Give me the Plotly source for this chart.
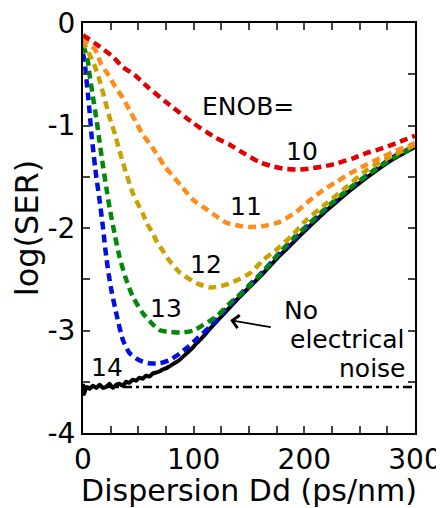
import plotly.graph_objects as go

# ---- data ----
x_10 = [0, 4.5, 15, 27, 36, 47, 58, 76, 100, 120, 133, 145, 160, 172, 181, 193, 205, 217, 229, 244, 256, 271, 286, 300]
y_10 = [-0.12, -0.15, -0.23, -0.33, -0.43, -0.51, -0.62, -0.78, -0.98, -1.12, -1.19, -1.27, -1.36, -1.40, -1.42, -1.43,
        -1.42, -1.40, -1.37, -1.32, -1.27, -1.22, -1.16, -1.10]

x_11 = [0, 3, 11, 16, 23, 29, 36, 42, 48, 53, 63, 74, 88, 100, 112, 121, 130, 142, 151, 163, 178, 193, 205, 217, 229,
        241, 253, 268, 280, 296, 300]
y_11 = [-0.14, -0.18, -0.26, -0.39, -0.51, -0.62, -0.73, -0.85, -0.97, -1.07, -1.22, -1.40, -1.58, -1.73, -1.82, -1.89,
        -1.95, -1.98, -1.99, -1.98, -1.94, -1.84, -1.73, -1.63, -1.55, -1.47, -1.40, -1.32, -1.26, -1.19, -1.17]

x_12 = [0, 1.5, 6, 11, 15, 20, 24, 29, 32, 35, 38, 45, 54, 58, 63, 67, 72, 76, 88, 103, 115, 127, 139, 151, 163, 175,
        190, 202, 220, 238, 257, 275, 300]
y_12 = [-0.17, -0.21, -0.31, -0.43, -0.56, -0.76, -0.92, -1.09, -1.21, -1.32, -1.43, -1.66, -1.86, -1.96, -2.05, -2.14,
        -2.22, -2.29, -2.44, -2.54, -2.58, -2.56, -2.51, -2.44, -2.31, -2.21, -2.06, -1.92, -1.76, -1.60, -1.43, -1.32,
        -1.19]

x_13 = [0, 1.5, 4.5, 6, 9, 12, 15, 18, 21, 24, 29, 33, 38, 45, 54, 63, 70, 76, 88, 100, 108, 121, 133, 145, 157, 169,
        175, 190, 205, 220, 240, 260, 280, 300]
y_13 = [-0.22, -0.26, -0.38, -0.51, -0.72, -0.93, -1.16, -1.39, -1.60, -1.80, -2.08, -2.28, -2.47, -2.67, -2.83, -2.94,
        -3.00, -3.01, -3.02, -3.00, -2.95, -2.86, -2.73, -2.62, -2.49, -2.35, -2.27, -2.10, -1.95, -1.80, -1.62, -1.46,
        -1.32, -1.20]

x_14 = [0, 1.5, 3, 4.5, 6, 7.5, 9, 11, 12, 15, 18, 21, 25, 30, 36, 42, 51, 60, 69, 78, 88, 96, 103, 115, 127, 139, 151,
        163, 175, 190, 205, 220, 235, 250, 265, 280, 300]
y_14 = [-0.30, -0.38, -0.54, -0.70, -0.87, -1.07, -1.22, -1.41, -1.50, -1.73, -1.99, -2.28, -2.57, -2.83, -3.09, -3.22,
        -3.29, -3.32, -3.32, -3.29, -3.22, -3.15, -3.08, -2.96, -2.82, -2.68, -2.55, -2.42, -2.28, -2.12, -1.96, -1.81,
        -1.67, -1.54, -1.42, -1.31, -1.20]

x_noiseless = [0, 1, 3, 6, 9, 12, 15, 18, 21, 24, 27, 30, 33, 36, 39, 42, 45, 48, 51, 54, 57, 60, 63, 66, 69, 72, 75,
               78, 81, 84, 87, 90, 93, 96, 99, 102, 106, 115, 127, 139, 151, 163, 175, 190, 205, 220, 235, 250, 265,
               280, 300]
y_noiseless = [-3.52, -3.62, -3.55, -3.57, -3.54, -3.56, -3.53, -3.56, -3.55, -3.52, -3.56, -3.53, -3.52, -3.54, -3.50,
               -3.51, -3.48, -3.49, -3.46, -3.47, -3.44, -3.45, -3.42, -3.41, -3.40, -3.38, -3.37, -3.35, -3.33, -3.31,
               -3.29, -3.26, -3.23, -3.20, -3.17, -3.13, -3.09, -2.98, -2.84, -2.70, -2.57, -2.44, -2.30, -2.14, -1.98,
               -1.83, -1.69, -1.56, -1.44, -1.33, -1.21]

x_floor = [0, 300]
y_floor = [-3.55, -3.55]

x_tickvals = [0, 25, 50, 75, 100, 125, 150, 175, 200, 225, 250, 275, 300]
x_ticktext = ["0", "", "", "", "100", "", "", "", "200", "", "", "", "300"]
y_tickvals = [0, -0.5, -1, -1.5, -2, -2.5, -3, -3.5, -4]
y_ticktext = ["0", "", "-1", "", "-2", "", "-3", "", "-4"]

FONT = "DejaVu Sans, Liberation Sans, Arial, sans-serif"

fig = go.Figure()
fig.add_trace(go.Scatter(x=x_floor, y=y_floor, mode="lines",
                         line=dict(color="black", width=2.5, dash="9px,4px,3px,4px")))
fig.add_trace(go.Scatter(x=x_noiseless, y=y_noiseless, mode="lines",
                         line=dict(color="black", width=4, shape="spline", smoothing=0.4)))
series = [
    (x_14, y_14, "#0010e0"),
    (x_13, y_13, "#00880a"),
    (x_12, y_12, "#c9a200"),
    (x_11, y_11, "#ff8c1a"),
    (x_10, y_10, "#e00000"),
]
for xs, ys, col in series:
    fig.add_trace(go.Scatter(x=xs, y=ys, mode="lines",
                             line=dict(color=col, width=4.5, dash="8px,5px", shape="spline", smoothing=0.6)))

labels = [
    ("ENOB=", 149, -0.81),
    ("10", 198, -1.25),
    ("11", 147, -1.79),
    ("12", 111, -2.36),
    ("13", 75, -2.79),
    ("14", 22, -3.36),
    ("No", 197, -2.80),
    ("electrical", 239, -3.09),
    ("noise", 262, -3.37),
]
for txt, lx, ly in labels:
    fig.add_annotation(x=lx, y=ly, text=txt, showarrow=False, xanchor="center", yanchor="middle",
                       font=dict(family=FONT, size=25, color="black"))

fig.add_annotation(x=133, y=-2.90, ax=171, ay=-2.97, axref="x", ayref="y", xref="x", yref="y",
                   text="", showarrow=True, arrowhead=4, arrowsize=1.4, arrowwidth=1.8, arrowcolor="black")

# the page body adds an 8 px offset, so the figure is sized to fill the rest of the 444x508 window
fig.update_layout(
    width=436, height=500,
    margin=dict(l=75, r=29, t=15, b=75),
    paper_bgcolor="white", plot_bgcolor="white",
    showlegend=False,
    font=dict(family=FONT, size=28, color="black"),
)
fig.update_xaxes(range=[0, 300], tickvals=x_tickvals, ticktext=x_ticktext, ticks="inside", ticklen=7, tickwidth=1.5,
                 mirror="ticks", showline=True, linecolor="black", linewidth=2, showgrid=False, zeroline=False,
                 automargin=False, ticklabeloverflow="allow", tickfont=dict(size=28),
                 title=dict(text="Dispersion Dd (ps/nm)", font=dict(size=30)))
fig.update_yaxes(range=[-4, 0], tickvals=y_tickvals, ticktext=y_ticktext, ticks="inside", ticklen=7, tickwidth=1.5,
                 mirror="ticks", showline=True, linecolor="black", linewidth=2, showgrid=False, zeroline=False,
                 automargin=False, ticklabeloverflow="allow", tickfont=dict(size=28),
                 title=dict(text="log(SER)", font=dict(size=32)))

fig.write_html("out.html")
